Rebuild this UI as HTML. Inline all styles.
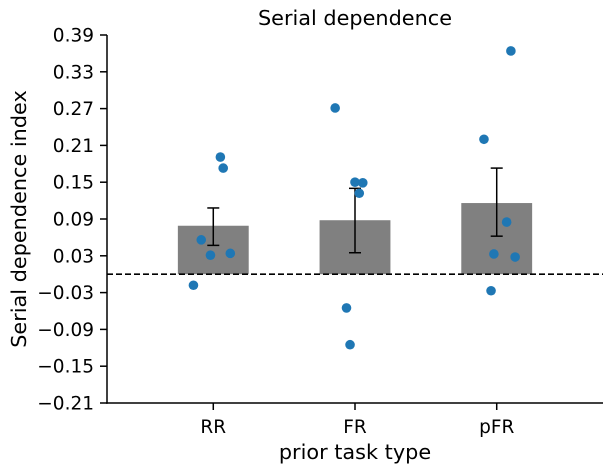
<!DOCTYPE html>
<html><head><meta charset="utf-8"><style>
html,body{margin:0;padding:0;background:#fff;}
svg text{font-family:"DejaVu Sans","Liberation Sans",sans-serif;fill:#000;}
</style></head><body>
<svg id="chart" width="613" height="471" xmlns="http://www.w3.org/2000/svg"></svg>
<script>
const categories = ["RR","FR","pFR"];
const barValues = [0.079, 0.088, 0.116];
const errLow = [0.047, 0.035, 0.062];
const errHigh = [0.108, 0.140, 0.173];
const pointValues = [
  [-0.018, 0.056, 0.031, 0.191, 0.173, 0.034],
  [0.271, -0.055, -0.115, 0.150, 0.132, 0.149],
  [0.220, -0.027, 0.033, 0.085, 0.364, 0.028]
];
const pointJitter = [
  [-0.14, -0.085, -0.02, 0.05, 0.07, 0.12],
  [-0.14, -0.06, -0.035, 0.0, 0.03, 0.055],
  [-0.09, -0.04, -0.02, 0.07, 0.10, 0.13]
];
const yTicks = ["-0.21","-0.15","-0.09","-0.03","0.03","0.09","0.15","0.21","0.27","0.33","0.39"];

const svg = document.getElementById('chart');
const NS = "http://www.w3.org/2000/svg";
const L = 107, R = 603, T = 35, B = 403;
const yMin = -0.21, yMax = 0.39, xMin = -0.75, xMax = 2.75;
const y = v => T + (yMax - v) / (yMax - yMin) * (B - T);
const x = v => L + (v - xMin) / (xMax - xMin) * (R - L);
function mk(tag, attrs){ const e = document.createElementNS(NS, tag); for (const k in attrs) e.setAttribute(k, attrs[k]); svg.appendChild(e); return e; }

barValues.forEach((v,i)=>{
  const b = mk('rect',{x:x(i-0.25), y:y(v), width:x(0.25)-x(-0.25), height:y(0)-y(v), fill:'#808080'});
  
  
});
const z = mk('line',{x1:L, x2:R, y1:y(0), y2:y(0), stroke:'#000', 'stroke-width':1.6, 'stroke-dasharray':'6,3'});


categories.forEach((c,i)=>{
  const g = document.createElementNS(NS,'g'); svg.appendChild(g);
  
  
  const cx = x(i);
  [[cx,cx,y(errLow[i]),y(errHigh[i])],[cx-6,cx+6,y(errLow[i]),y(errLow[i])],[cx-6,cx+6,y(errHigh[i]),y(errHigh[i])]].forEach(a=>{
    const l = document.createElementNS(NS,'line');
    l.setAttribute('x1',a[0]);l.setAttribute('x2',a[1]);l.setAttribute('y1',a[2]);l.setAttribute('y2',a[3]);
    l.setAttribute('stroke','#000');l.setAttribute('stroke-width','1.5');g.appendChild(l);
  });
});
pointValues.forEach((arr,i)=>arr.forEach((v,j)=>{
  const p = mk('circle',{cx:x(i+pointJitter[i][j]), cy:y(v), r:4.8, fill:'#1f77b4'});
  
  
}));
const ay = mk('line',{x1:L,x2:L,y1:T,y2:B+0.7,stroke:'#000','stroke-width':1.5});


const ax = mk('line',{x1:L-0.7,x2:R,y1:B,y2:B,stroke:'#000','stroke-width':1.5});


yTicks.forEach(t=>{
  const v = parseFloat(t), py = y(v);
  mk('line',{x1:L-7,x2:L,y1:py,y2:py,stroke:'#000','stroke-width':1.5});
  const tx = mk('text',{x:L-13,y:py+6.5,'text-anchor':'end','font-size':18.5});
  tx.textContent = t.replace('-','\u2212');
  
  
});
categories.forEach((c,i)=>{
  mk('line',{x1:x(i),x2:x(i),y1:B,y2:B+7,stroke:'#000','stroke-width':1.5});
  const tx = mk('text',{x:x(i),y:B+30,'text-anchor':'middle','font-size':18.5});
  tx.textContent = c;
  
  
});
const xt = mk('text',{x:(L+R)/2,y:459,'text-anchor':'middle','font-size':20.8});
xt.textContent='prior task type';


const yt = mk('text',{x:0,y:0,'text-anchor':'middle','font-size':20.8,transform:'translate(26,219) rotate(-90)'});
yt.textContent='Serial dependence index';


const tt = mk('text',{x:(L+R)/2,y:25,'text-anchor':'middle','font-size':20.8});
tt.textContent='Serial dependence';


</script>
</body></html>
